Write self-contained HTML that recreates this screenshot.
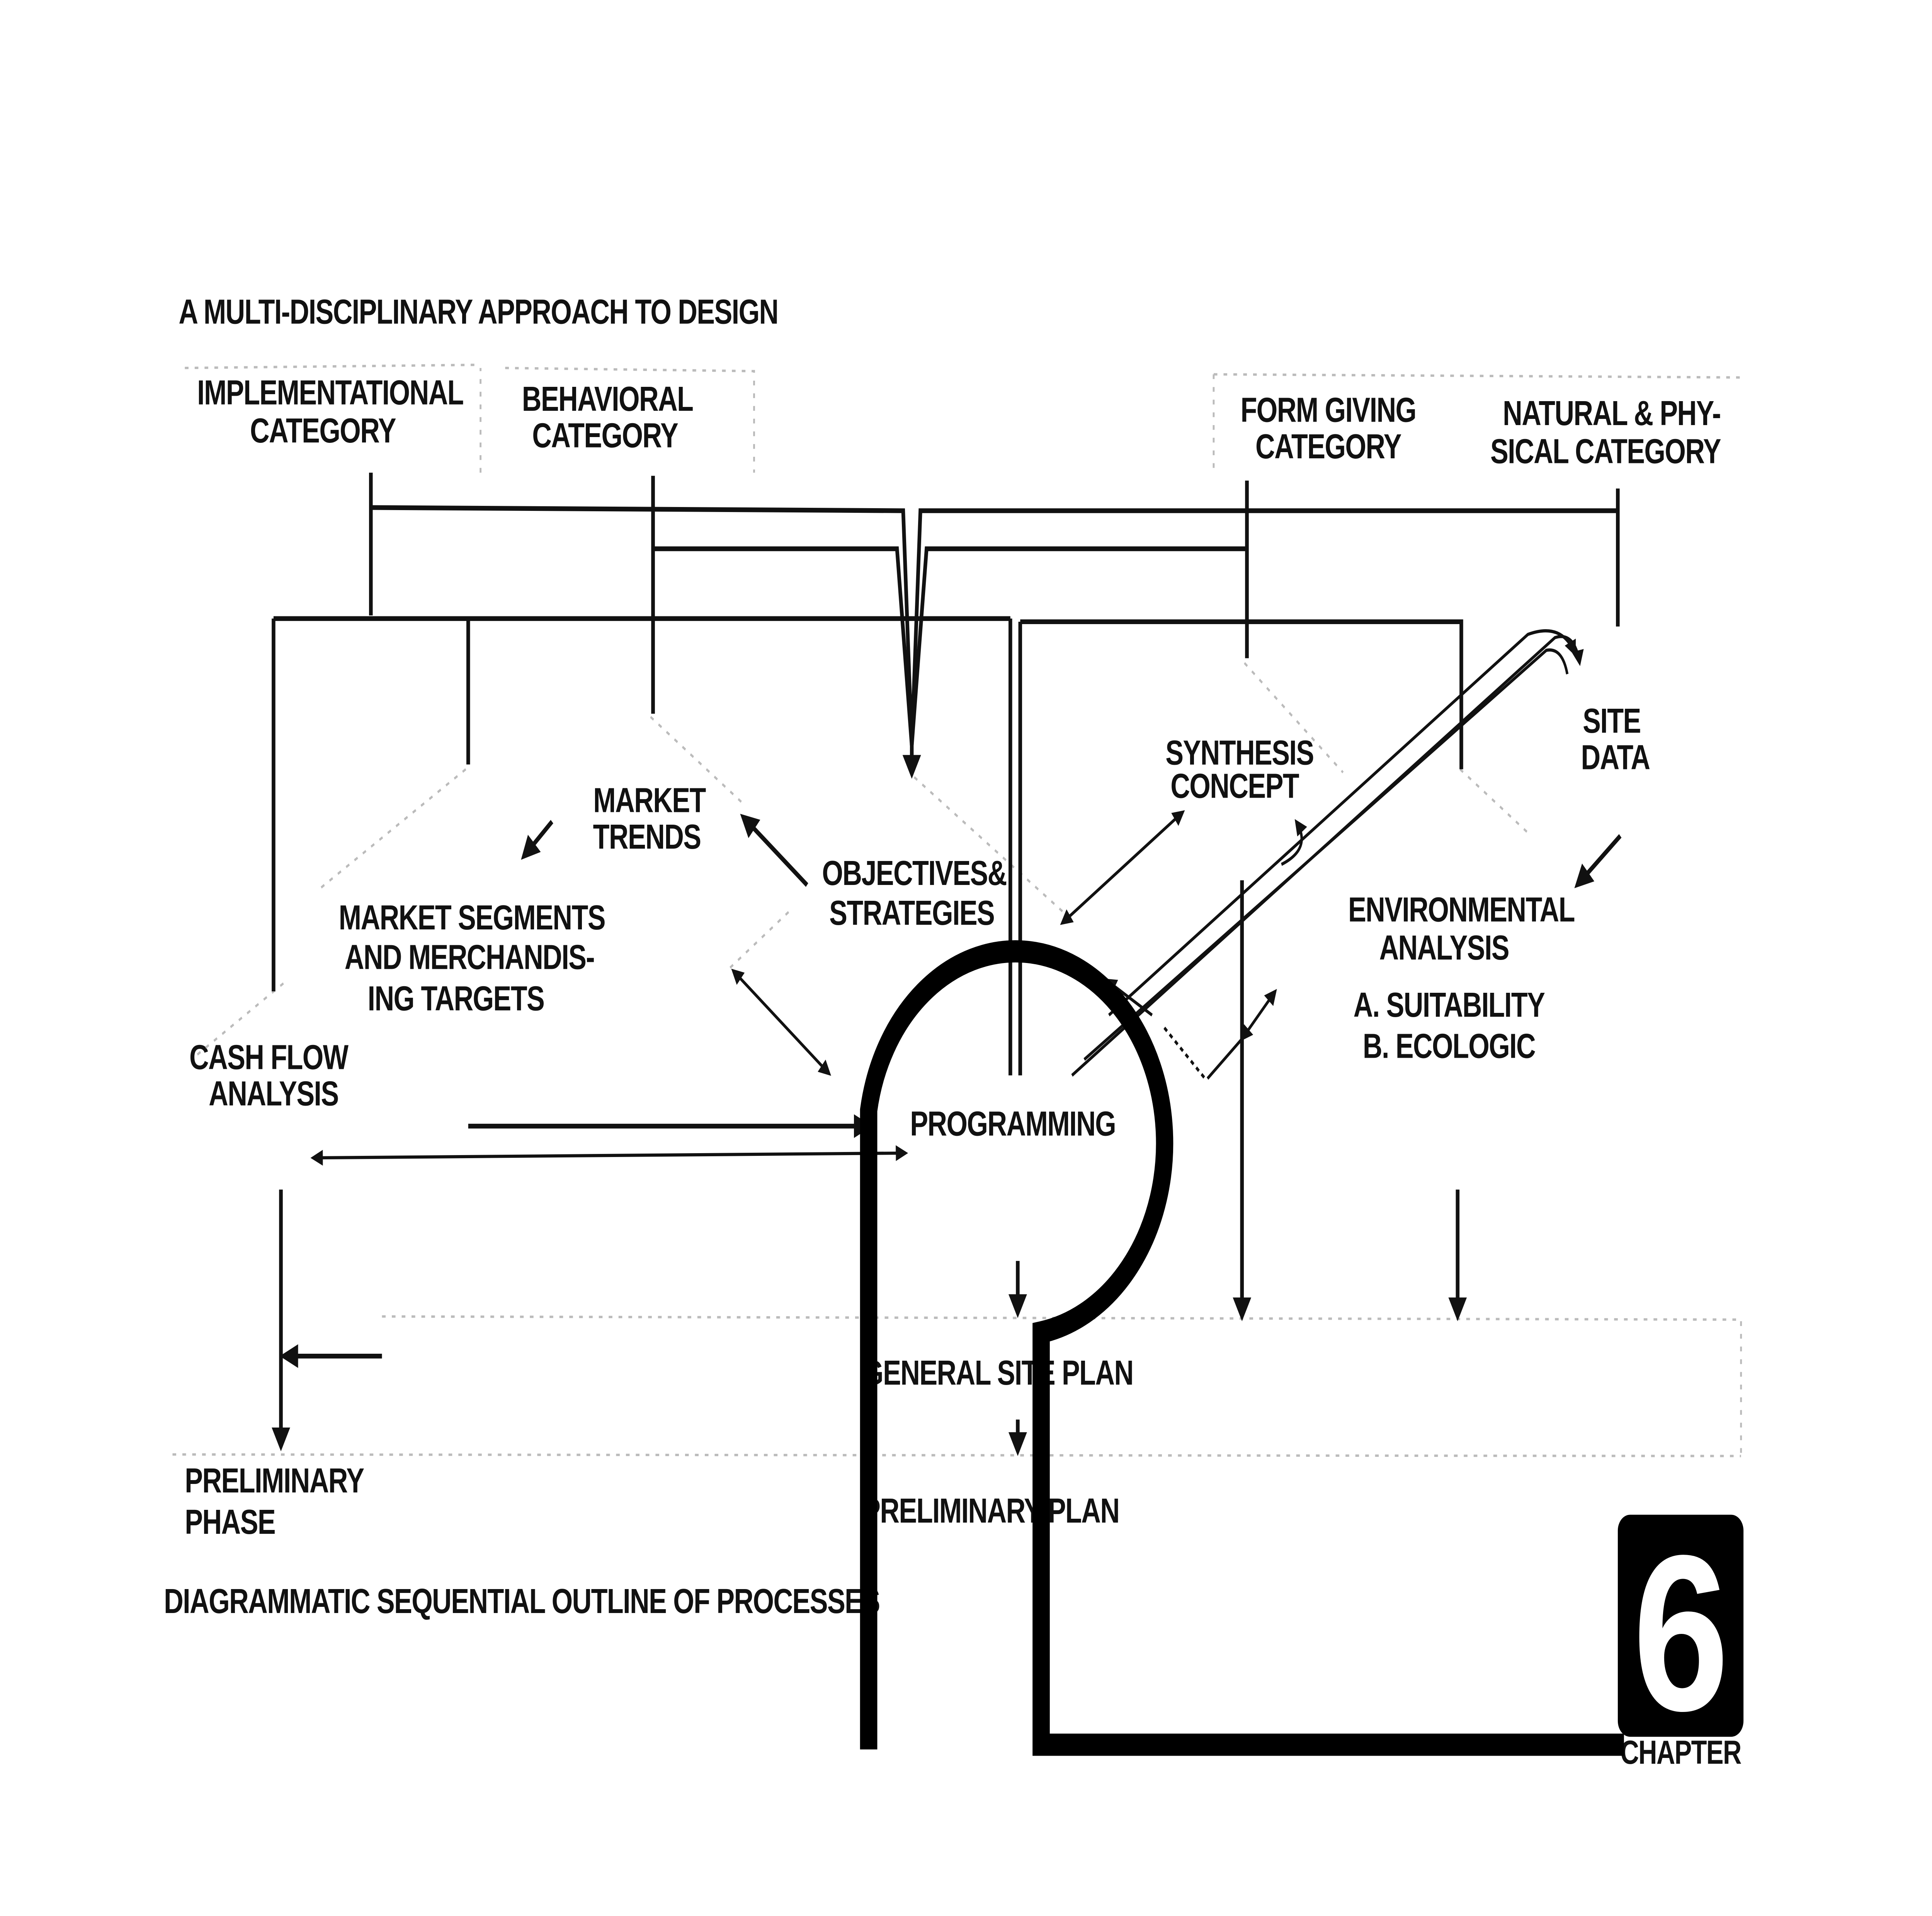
<!DOCTYPE html>
<html><head><meta charset="utf-8"><style>
html,body{margin:0;padding:0;background:#fff;width:100%;height:100%;overflow:hidden;}
#w{position:fixed;left:0;top:0;width:100vw;height:100vh;overflow:hidden;}
svg{display:block;position:absolute;left:0;top:0;width:100%;height:100%;}
text{font-family:"Liberation Sans",sans-serif;font-weight:bold;fill:#111;letter-spacing:-0.5px;}
</style></head><body><div id="w">
<svg viewBox="0 0 1568 1208" preserveAspectRatio="none" xmlns="http://www.w3.org/2000/svg">
<defs>
<marker id="a" viewBox="0 0 10 10" refX="8" refY="5" markerWidth="5" markerHeight="5" orient="auto-start-reverse"><path d="M0,0 L10,5 L0,10 z" fill="#111"/></marker>
</defs>
<rect width="1568" height="1208" fill="#fff"/>
<g font-size="22">
<text x="145" y="204">A MULTI-DISCIPLINARY APPROACH TO DESIGN</text>
<text x="268" y="255" text-anchor="middle">IMPLEMENTATIONAL</text>
<text x="262" y="279" text-anchor="middle">CATEGORY</text>
<text x="493" y="259" text-anchor="middle">BEHAVIORAL</text>
<text x="491" y="282" text-anchor="middle">CATEGORY</text>
<text x="1078" y="266" text-anchor="middle">FORM  GIVING</text>
<text x="1078" y="289" text-anchor="middle">CATEGORY</text>
<text x="1308" y="268" text-anchor="middle">NATURAL &amp; PHY-</text>
<text x="1303" y="292" text-anchor="middle">SICAL  CATEGORY</text>
<text x="527" y="512" text-anchor="middle">MARKET</text>
<text x="525" y="535" text-anchor="middle">TRENDS</text>
<text x="742" y="558" text-anchor="middle">OBJECTIVES&amp;</text>
<text x="740" y="583" text-anchor="middle">STRATEGIES</text>
<text x="1006" y="482" text-anchor="middle">SYNTHESIS</text>
<text x="1002" y="503" text-anchor="middle">CONCEPT</text>
<text x="1308" y="462" text-anchor="middle">SITE</text>
<text x="1311" y="485" text-anchor="middle">DATA</text>
<text x="383" y="586" text-anchor="middle">MARKET SEGMENTS</text>
<text x="381" y="611" text-anchor="middle">AND MERCHANDIS-</text>
<text x="370" y="637" text-anchor="middle">ING  TARGETS</text>
<text x="1186" y="581" text-anchor="middle">ENVIRONMENTAL</text>
<text x="1172" y="605" text-anchor="middle">ANALYSIS</text>
<text x="1176" y="641" text-anchor="middle">A. SUITABILITY</text>
<text x="1176" y="667" text-anchor="middle">B. ECOLOGIC</text>
<text x="218" y="674" text-anchor="middle">CASH FLOW</text>
<text x="222" y="697" text-anchor="middle">ANALYSIS</text>
<text x="822" y="716" text-anchor="middle">PROGRAMMING</text>
<text x="700" y="873">GENERAL  SITE  PLAN</text>
<text x="700" y="960">PRELIMINARY  PLAN</text>
<text x="150" y="941">PRELIMINARY</text>
<text x="150" y="967">PHASE</text>
<text x="133" y="1017">DIAGRAMMATIC  SEQUENTIAL  OUTLINE  OF  PROCESSES</text>
<text x="1413" y="1112" text-anchor="end" font-size="21">CHAPTER</text>
</g>
<g stroke="#bbb" stroke-width="1.5" stroke-dasharray="3,5" fill="none">
<path d="M150,232 L390,230 M410,232 L612,234 L612,298 M390,298 L390,232"/>
<path d="M985,236 L1415,238 M985,236 L985,298"/>
<path d="M310,830 L1413,832 L1413,918 M140,917 L1413,918"/>
<path d="M528,452 L605,508 M378,485 L260,560 M1010,418 L1090,487 M1185,485 L1240,525 M742,490 L870,580 M640,575 L590,612 M230,620 L160,665"/>
</g>
<g stroke="#111" stroke-width="3" fill="none">
<path d="M301,298 V388 M530,300 V450 M1313,308 V395 M1012,303 V415"/>
<path d="M301,320 L733,322 L740,470 L747,322 L1313,322"/>
<path d="M530,346 L728,346 L740,470 L752,346 L1012,346"/>
<path d="M222,390 H820 M222,390 V625 M380,390 V482 M820,390 V678 M828,392 V678 M828,392 H1186 V485"/>
<path d="M740,440 V488" marker-end="url(#a)"/>
<path d="M448,518 L425,540" marker-end="url(#a)"/>
<path d="M655,558 L603,515" marker-end="url(#a)"/>
<path d="M1315,527 L1280,558" marker-end="url(#a)"/>
<path d="M380,710 H705" marker-end="url(#a)"/>
<path d="M228,750 V912" marker-end="url(#a)"/>
<path d="M310,855 H230" marker-end="url(#a)"/>
<path d="M826,795 V828" marker-end="url(#a)"/>
<path d="M1008,555 V830" marker-end="url(#a)"/>
<path d="M1183,750 V830" marker-end="url(#a)"/>
<path d="M826,895 V915" marker-end="url(#a)"/>
</g>
<g stroke="#111" stroke-width="2" fill="none">
<path d="M595,612 L673,677" marker-start="url(#a)" marker-end="url(#a)"/>
<path d="M862,582 L960,512" marker-start="url(#a)" marker-end="url(#a)"/>
<path d="M254,730 L735,727" marker-start="url(#a)" marker-end="url(#a)"/>
<path d="M870,678 L1262,402 Q1278,398 1282,418" marker-end="url(#a)"/>
<path d="M880,668 L1255,410 Q1268,408 1272,425" />
<path d="M900,640 L1240,400 Q1268,392 1278,412" marker-end="url(#a)"/>
<path d="M980,680 L1008,655" />
<path d="M1008,655 L1035,625" marker-start="url(#a)" marker-end="url(#a)"/>
<path d="M1040,545 Q1065,535 1052,518" marker-end="url(#a)"/>
<path d="M935,640 L898,618" marker-end="url(#a)"/>
<path d="M945,648 L978,680" stroke-dasharray="3,3"/>
</g>
<path d="M705,1103 V700 A121,121 0 1 1 845,840 V1100 H1318" stroke="#000" stroke-width="14" fill="none"/>
<rect x="1313" y="955" width="102" height="140" rx="10" fill="#000"/>
<text x="1364" y="1078" text-anchor="middle" font-size="140" style="fill:#fff;font-weight:bold">6</text>
</svg>
</div></body></html>
